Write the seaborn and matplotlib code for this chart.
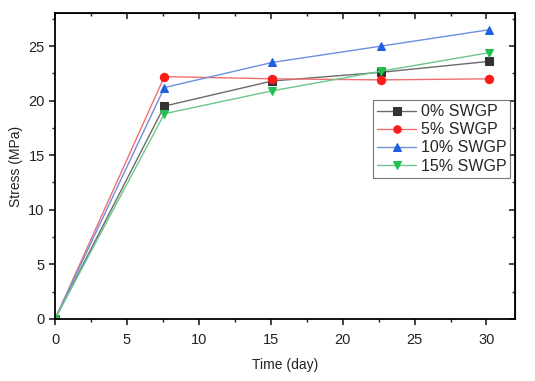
import numpy as np
import pandas as pd
import seaborn as sns
from matplotlib import pyplot as plt
from matplotlib.ticker import MultipleLocator

# data
time_day = [0, 7.6, 15.1, 22.7, 30.2]
series_names = ["0% SWGP", "5% SWGP", "10% SWGP", "15% SWGP"]
stress_0 = [0, 19.5, 21.8, 22.6, 23.6]
stress_5 = [0, 22.2, 22.0, 21.9, 22.0]
stress_10 = [0, 21.2, 23.5, 25.0, 26.5]
stress_15 = [0, 18.8, 20.9, 22.7, 24.4]

line_colors = ["#6b6b6b", "#f07070", "#6f8fe0", "#6cc88a"]
marker_colors = ["#333333", "#ff1a1a", "#1f5fe0", "#22c050"]
markers = ["s", "o", "^", "v"]

rows = []
for name, vals in zip(series_names, [stress_0, stress_5, stress_10, stress_15]):
    for t, v in zip(time_day, vals):
        rows.append({"Time": t, "Stress": v, "Sample": name})
df = pd.DataFrame(rows)

sns.set_style("ticks")
plt.rcParams['font.family'] = ['Liberation Sans', 'DejaVu Sans']
plt.rcParams['font.size'] = 9

fig = plt.figure(figsize=(5.35, 3.81), dpi=100)
ax = fig.add_axes([0.103, 0.163, 0.860, 0.802])

for i, name in enumerate(series_names):
    sub = df[df["Sample"] == name]
    sns.lineplot(data=sub, x="Time", y="Stress", ax=ax, color=line_colors[i], linewidth=1.0,
                 marker=markers[i], markersize=6, markerfacecolor=marker_colors[i],
                 markeredgecolor=marker_colors[i], label=name)

ax.set_xlim(0, 32)
ax.set_ylim(0, 28)
ax.xaxis.set_major_locator(MultipleLocator(5))
ax.xaxis.set_minor_locator(MultipleLocator(2.5))
ax.yaxis.set_major_locator(MultipleLocator(5))
ax.yaxis.set_minor_locator(MultipleLocator(2.5))

for sp in ax.spines.values():
    sp.set_visible(True)
    sp.set_linewidth(1.3)
    sp.set_color("black")

ax.tick_params(which="both", direction="out", top=False, right=False, labelsize=10.5, colors="#222222")
ax.tick_params(which="major", length=4, width=1.2)
ax.tick_params(which="minor", length=2.5, width=1.0)
ax.tick_params(axis="x", which="major", pad=6)

# inward ticks on top and right edges
ax2 = ax.secondary_xaxis("top")
ax2.xaxis.set_major_locator(MultipleLocator(5))
ax2.xaxis.set_minor_locator(MultipleLocator(2.5))
ax2.tick_params(which="both", direction="in", labeltop=False)
ax2.tick_params(which="major", length=4, width=1.2)
ax2.tick_params(which="minor", length=2.5, width=1.0)
ax3 = ax.secondary_yaxis("right")
ax3.yaxis.set_major_locator(MultipleLocator(5))
ax3.yaxis.set_minor_locator(MultipleLocator(2.5))
ax3.tick_params(which="both", direction="in", labelright=False)
ax3.tick_params(which="major", length=4, width=1.2)
ax3.tick_params(which="minor", length=2.5, width=1.0)

ax.set_xlabel("Time (day)", fontsize=10, color="#222222", labelpad=8)
ax.set_ylabel("Stress (MPa)", fontsize=10, color="#222222")

leg = ax.legend(loc="upper right", fontsize=11.5,
                frameon=True, fancybox=False, borderpad=0.25, labelspacing=0.2,
                handlelength=2.4, handletextpad=0.3, borderaxespad=0, markerscale=0.9)
leg.set_bbox_to_anchor((0.989, 0.716), transform=ax.transAxes)
leg.get_frame().set_edgecolor("#555555")
leg.get_frame().set_linewidth(0.8)

fig.savefig("out.png", dpi=100)
